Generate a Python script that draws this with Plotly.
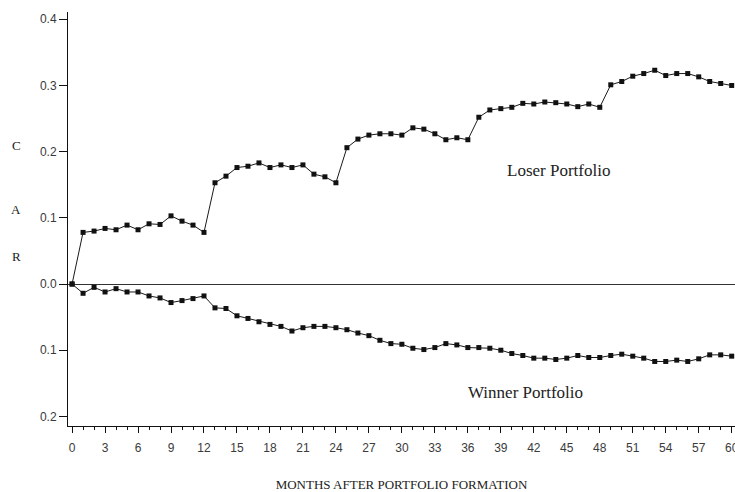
import plotly.graph_objects as go

# Months after portfolio formation
months = list(range(0, 61))

# Cumulative average residuals (CAR)
loser_car = [
    0.000, 0.078, 0.080, 0.084, 0.082, 0.089, 0.082, 0.091, 0.090, 0.103,
    0.095, 0.089, 0.078, 0.153, 0.163, 0.176, 0.178, 0.183, 0.176, 0.180,
    0.176, 0.180, 0.166, 0.162, 0.153, 0.206, 0.219, 0.225, 0.227, 0.227,
    0.225, 0.236, 0.234, 0.227, 0.218, 0.221, 0.218, 0.252, 0.263, 0.265,
    0.267, 0.273, 0.272, 0.275, 0.274, 0.272, 0.268, 0.272, 0.267, 0.301,
    0.306, 0.314, 0.318, 0.323, 0.315, 0.318, 0.318, 0.313, 0.306, 0.303,
    0.300,
]
winner_car = [
    0.000, -0.014, -0.005, -0.012, -0.007, -0.012, -0.012, -0.018, -0.021, -0.028,
    -0.025, -0.022, -0.018, -0.036, -0.037, -0.048, -0.052, -0.057, -0.061, -0.064,
    -0.071, -0.066, -0.064, -0.064, -0.066, -0.069, -0.074, -0.078, -0.085, -0.090,
    -0.091, -0.097, -0.099, -0.096, -0.090, -0.092, -0.096, -0.096, -0.097, -0.100,
    -0.105, -0.108, -0.112, -0.112, -0.114, -0.112, -0.108, -0.111, -0.111, -0.108,
    -0.106, -0.109, -0.112, -0.117, -0.117, -0.115, -0.117, -0.113, -0.107, -0.107,
    -0.109,
]

# Y tick labels are printed without sign
y_tickvals = [0.4, 0.3, 0.2, 0.1, 0.0, -0.1, -0.2]
y_ticktext = ["0.4", "0.3", "0.2", "0.1", "0.0", "0.1", "0.2"]
x_tickvals = list(range(0, 61, 3))

serif = "Liberation Serif, Times New Roman, serif"
tickfont = dict(family="Liberation Sans, Arial, sans-serif", size=12, color="#3a3a3a")

fig = go.Figure()
for name, ys in (("Loser Portfolio", loser_car), ("Winner Portfolio", winner_car)):
    fig.add_trace(go.Scatter(
        x=months, y=ys, name=name, mode="lines+markers",
        line=dict(color="#1a1a1a", width=1),
        marker=dict(symbol="square", size=5, color="#111"),
        showlegend=False,
    ))

fig.update_layout(
    width=735, height=492,
    margin=dict(l=68, r=0, t=12, b=66, autoexpand=False),
    paper_bgcolor="white", plot_bgcolor="white",
    xaxis=dict(
        range=[-0.37, 60.3],
        automargin=False,
        tickvals=x_tickvals, ticktext=[str(v) for v in x_tickvals],
        ticks="outside", ticklen=6, tickwidth=1, tickcolor="#111",
        minor=dict(dtick=1, tick0=0, ticks="outside", ticklen=3, tickcolor="#111", tickwidth=1),
        showline=True, linecolor="#111", linewidth=1,
        showgrid=False, zeroline=False,
        tickfont=tickfont, ticklabelstandoff=5, ticklabeloverflow="allow",
        title=dict(text="MONTHS AFTER PORTFOLIO FORMATION",
                   font=dict(family=serif, size=13, color="#222"), standoff=29),
    ),
    yaxis=dict(
        range=[-0.2145, 0.411],
        automargin=False,
        tickvals=y_tickvals, ticktext=y_ticktext,
        ticks="outside", ticklen=8, tickwidth=1, tickcolor="#111",
        showline=True, linecolor="#111", linewidth=1,
        showgrid=False,
        zeroline=True, zerolinecolor="#333", zerolinewidth=1,
        tickfont=tickfont,
    ),
)

# Axis letters for CAR on the left
for letter, yv in (("C", 0.209), ("A", 0.112), ("R", 0.042)):
    fig.add_annotation(x=(16 - 68) / 667, y=yv, xref="paper", yref="y", xanchor="center",
                       text=letter, showarrow=False,
                       font=dict(family=serif, size=13, color="#222"))

# Series labels
fig.add_annotation(x=44.2, y=0.1715, text="Loser Portfolio", showarrow=False,
                   xref="x", yref="y", font=dict(family=serif, size=17, color="#222"))
fig.add_annotation(x=41.2, y=-0.1635, text="Winner Portfolio", showarrow=False,
                   xref="x", yref="y", font=dict(family=serif, size=17, color="#222"))

fig.write_html("out.html")
